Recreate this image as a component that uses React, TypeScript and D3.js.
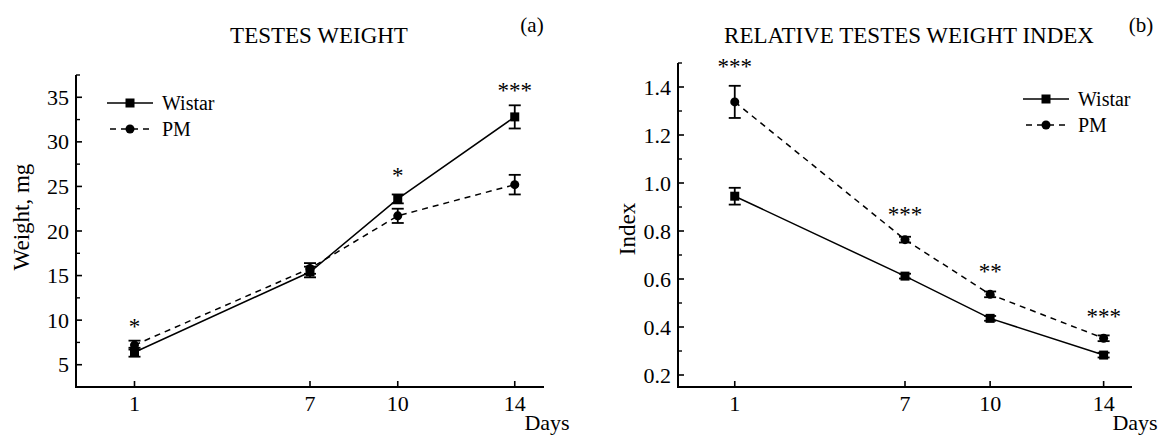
import React from "react";
import * as d3 from "d3";

// ---------- data ----------
const days = [1, 7, 10, 14];
const dayTicks = [1, 7, 10, 14];

const weightWistar = [6.4, 15.4, 23.6, 32.8];
const weightWistarErr = [0.5, 0.6, 0.5, 1.3];
const weightPM = [7.2, 15.8, 21.7, 25.2];
const weightPMErr = [0.5, 0.6, 0.8, 1.1];
const weightStars = ["*", "", "*", "***"];
const weightStarLevel = [9.7, 0, 26.6, 36.2];
const weightTicks = [5, 10, 15, 20, 25, 30, 35];
const weightMinorTicks = [2.5, 7.5, 12.5, 17.5, 22.5, 27.5, 32.5, 37.5];

const indexWistar = [0.945, 0.612, 0.436, 0.283];
const indexWistarErr = [0.035, 0.01, 0.01, 0.01];
const indexPM = [1.338, 0.764, 0.536, 0.353];
const indexPMErr = [0.067, 0.012, 0.012, 0.012];
const indexStars = ["***", "***", "**", "***"];
const indexStarLevel = [1.5, 0.882, 0.645, 0.458];
const indexTicks = [0.2, 0.4, 0.6, 0.8, 1.0, 1.2, 1.4];
const indexMinorTicks = [0.3, 0.5, 0.7, 0.9, 1.1, 1.3, 1.5];

const seriesNames = ["Wistar", "PM"];

const FONT = "'Liberation Serif', 'Times New Roman', serif";

type PanelProps = {
  x0: number;
  x1: number;
  yTop: number;
  yBottom: number;
  yDomain: [number, number];
  ticks: number[];
  minor: number[];
  fmt: (v: number) => string;
  wistar: number[];
  wistarErr: number[];
  pm: number[];
  pmErr: number[];
  stars: string[];
  starLevel: number[];
  title: string;
  titleX: number;
  tag: string;
  tagX: number;
  yLabel: string;
  yLabelX: number;
  yLabelY: number;
  legendX: number;
  legendY: number;
  legendGap: number;
};

function Panel(p: PanelProps) {
  const x = d3.scaleLinear().domain([-1, 15]).range([p.x0, p.x1]);
  const y = d3.scaleLinear().domain(p.yDomain).range([p.yBottom, p.yTop]);
  const line = d3
    .line<number>()
    .x((_, i) => x(days[i]))
    .y((v) => y(v));
  const cap = 6;
  const errBars = (vals: number[], errs: number[], key: string) =>
    vals.map((v, i) => {
      const cx = x(days[i]);
      const yl = y(v - errs[i]);
      const yh = y(v + errs[i]);
      return (
        <g key={key + i} stroke="#000" strokeWidth={1.8}>
          <line x1={cx} x2={cx} y1={yl} y2={yh} />
          <line x1={cx - cap} x2={cx + cap} y1={yl} y2={yl} />
          <line x1={cx - cap} x2={cx + cap} y1={yh} y2={yh} />
        </g>
      );
    });
  const lx0 = p.legendX;
  const lx1 = p.legendX + 46;
  const lm = (lx0 + lx1) / 2;
  return (
    <g fontFamily={FONT} fill="#000">
      {/* title */}
      <text x={p.titleX} y={43} fontSize={23} textAnchor="middle">
        {p.title}
      </text>
      <text x={p.tagX} y={32} fontSize={21} textAnchor="middle">
        {p.tag}
      </text>
      {/* axes */}
      <line x1={p.x0} x2={p.x0} y1={p.yTop} y2={p.yBottom + 1} stroke="#000" strokeWidth={2} />
      <line x1={p.x0 - 1} x2={p.x1} y1={p.yBottom} y2={p.yBottom} stroke="#000" strokeWidth={2} />
      {p.ticks.map((t) => (
        <g key={"yt" + t}>
          <line x1={p.x0} x2={p.x0 + 6} y1={y(t)} y2={y(t)} stroke="#000" strokeWidth={1.6} />
          <text x={p.x0 - 7} y={y(t) + 7.5} fontSize={22} textAnchor="end">
            {p.fmt(t)}
          </text>
        </g>
      ))}
      {p.minor.map((t) => (
        <line key={"ym" + t} x1={p.x0} x2={p.x0 + 4} y1={y(t)} y2={y(t)} stroke="#000" strokeWidth={1.4} />
      ))}
      {dayTicks.map((d) => (
        <g key={"xt" + d}>
          <line x1={x(d)} x2={x(d)} y1={p.yBottom - 6} y2={p.yBottom} stroke="#000" strokeWidth={1.6} />
          <text x={x(d)} y={p.yBottom + 24} fontSize={22} textAnchor="middle">
            {d}
          </text>
        </g>
      ))}
      <text x={p.x1 + 3} y={p.yBottom + 43} fontSize={22} textAnchor="middle">
        Days
      </text>
      <text
        transform={`translate(${p.yLabelX},${p.yLabelY}) rotate(-90)`}
        fontSize={23}
        textAnchor="middle"
      >
        {p.yLabel}
      </text>
      {/* series */}
      <path d={line(p.wistar) || ""} fill="none" stroke="#000" strokeWidth={1.5} />
      <path d={line(p.pm) || ""} fill="none" stroke="#000" strokeWidth={1.5} strokeDasharray="6 5" />
      {errBars(p.wistar, p.wistarErr, "ew")}
      {errBars(p.pm, p.pmErr, "ep")}
      {p.wistar.map((v, i) => (
        <rect key={"sq" + i} x={x(days[i]) - 4.5} y={y(v) - 4.5} width={9} height={9} fill="#000" />
      ))}
      {p.pm.map((v, i) => (
        <circle key={"ci" + i} cx={x(days[i])} cy={y(v)} r={4.5} fill="#000" />
      ))}
      {p.stars.map((s, i) =>
        s ? (
          <text key={"st" + i} x={x(days[i])} y={y(p.starLevel[i]) + 11} fontSize={23} textAnchor="middle">
            {s}
          </text>
        ) : null
      )}
      {/* legend */}
      <line x1={lx0} x2={lx1} y1={p.legendY} y2={p.legendY} stroke="#000" strokeWidth={1.6} />
      <rect x={lm - 4.5} y={p.legendY - 4.5} width={9} height={9} fill="#000" />
      <text x={lx1 + 9} y={p.legendY + 7} fontSize={20}>
        {seriesNames[0]}
      </text>
      <line
        x1={lx0 + 3}
        x2={lx1}
        y1={p.legendY + p.legendGap}
        y2={p.legendY + p.legendGap}
        stroke="#000"
        strokeWidth={1.6}
        strokeDasharray="6 5"
      />
      <circle cx={lm} cy={p.legendY + p.legendGap} r={4.5} fill="#000" />
      <text x={lx1 + 9} y={p.legendY + p.legendGap + 7} fontSize={20}>
        {seriesNames[1]}
      </text>
    </g>
  );
}

export default function App() {
  return (
    <svg
      width={1175}
      height={435}
      style={{ position: "absolute", left: 0, top: 0, background: "#fff" }}
    >
      <rect width={1175} height={435} fill="#fff" />
      <Panel
        x0={76}
        x1={544}
        yTop={75}
        yBottom={387}
        yDomain={[2.5, 37.5]}
        ticks={weightTicks}
        minor={weightMinorTicks}
        fmt={(v) => String(v)}
        wistar={weightWistar}
        wistarErr={weightWistarErr}
        pm={weightPM}
        pmErr={weightPMErr}
        stars={weightStars}
        starLevel={weightStarLevel}
        title="TESTES WEIGHT"
        titleX={319}
        tag="(a)"
        tagX={532}
        yLabel="Weight, mg"
        yLabelX={29}
        yLabelY={217}
        legendX={107}
        legendY={103}
        legendGap={26}
      />
      <Panel
        x0={678}
        x1={1132}
        yTop={63}
        yBottom={387}
        yDomain={[0.15, 1.5]}
        ticks={indexTicks}
        minor={indexMinorTicks}
        fmt={d3.format(".1f")}
        wistar={indexWistar}
        wistarErr={indexWistarErr}
        pm={indexPM}
        pmErr={indexPMErr}
        stars={indexStars}
        starLevel={indexStarLevel}
        title="RELATIVE TESTES WEIGHT INDEX"
        titleX={909}
        tag="(b)"
        tagX={1141}
        yLabel="Index"
        yLabelX={635}
        yLabelY={229}
        legendX={1023}
        legendY={99}
        legendGap={26}
      />
    </svg>
  );
}
